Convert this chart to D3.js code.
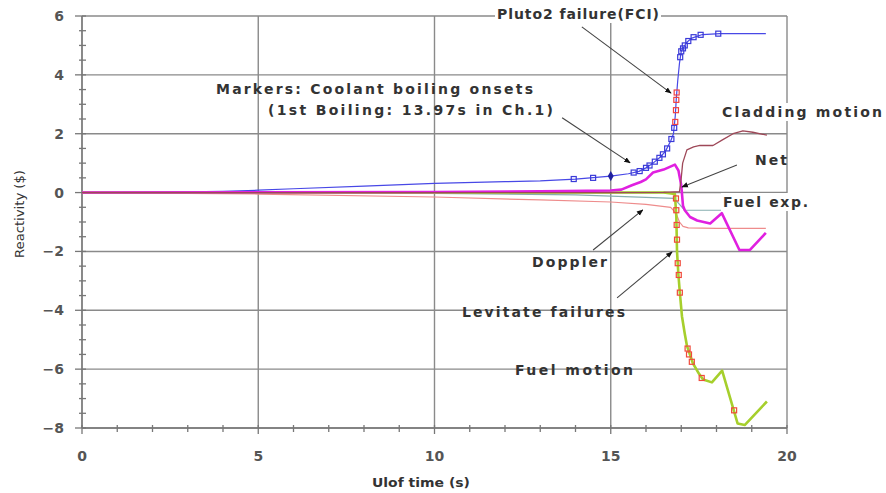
<!DOCTYPE html>
<html>
<head>
<meta charset="utf-8">
<script src="https://cdn.jsdelivr.net/npm/d3@7"></script>
<style>
  html, body { margin: 0; padding: 0; background: #fff; }
  svg { display: block; }
  text { font-family: "DejaVu Sans", "Liberation Sans", Arial, sans-serif; }
</style>
</head>
<body>
<svg id="chart" width="886" height="493"></svg>
<script>
// ---- Reactivity components during the ULOF transient ($ vs s) ----
const coolantT = [0, 2, 4, 5, 6, 8, 10, 12, 13, 14, 15, 15.5, 15.8, 16.0, 16.2, 16.4, 16.55, 16.7, 16.78, 16.83, 16.86, 16.9, 16.95, 17.0, 17.15, 17.3, 17.6, 18.1, 19.4];
const coolantV = [0, 0.01, 0.04, 0.08, 0.13, 0.22, 0.31, 0.37, 0.4, 0.46, 0.56, 0.64, 0.72, 0.84, 1.0, 1.2, 1.4, 1.75, 2.0, 2.6, 3.2, 3.8, 4.4, 4.8, 5.1, 5.25, 5.37, 5.4, 5.4];

const netT = [0, 5, 10, 13, 15, 15.3, 15.6, 15.85, 16.0, 16.2, 16.5, 16.82, 16.92, 17.0, 17.05, 17.1, 17.25, 17.45, 17.82, 18.15, 18.65, 18.95, 19.4];
const netV = [0, 0.01, 0.02, 0.04, 0.07, 0.1, 0.25, 0.36, 0.45, 0.68, 0.78, 0.95, 0.75, 0.25, -0.45, -0.6, -0.83, -0.95, -1.05, -0.7, -1.95, -1.95, -1.37];

const claddingT = [0, 5, 10, 15, 16.5, 16.95, 17.0, 17.04, 17.16, 17.35, 17.53, 17.9, 18.18, 18.47, 18.75, 19.03, 19.43];
const claddingV = [0, 0, 0, 0, 0.01, 0.03, 0.5, 1.0, 1.45, 1.55, 1.6, 1.6, 1.8, 2.0, 2.1, 2.05, 1.95];

const dopplerT = [0, 5, 10, 13, 15, 16, 16.7, 16.85, 16.95, 17.05, 17.2, 18, 19.4];
const dopplerV = [0, -0.05, -0.15, -0.25, -0.32, -0.4, -0.5, -0.7, -1.0, -1.15, -1.2, -1.22, -1.22];

const fuelExpT = [0, 10, 14, 15, 16, 16.8, 16.95, 17.1, 19.4];
const fuelExpV = [0, -0.03, -0.08, -0.12, -0.16, -0.2, -0.4, -0.6, -0.6];

const fuelMotionT = [0, 5, 10, 15, 16.5, 16.82, 16.86, 16.88, 16.92, 16.96, 17.02, 17.1, 17.16, 17.33, 17.5, 17.62, 17.87, 18.16, 18.38, 18.6, 18.8, 19.43];
const fuelMotionV = [0, 0, 0, 0, 0, -0.05, -0.8, -2.0, -2.8, -3.4, -4.2, -4.8, -5.2, -5.8, -6.15, -6.35, -6.45, -6.05, -6.95, -7.85, -7.9, -7.1];

// coolant boiling onsets (blue) on the coolant curve
const boilT = [13.95, 14.5, 15.65, 15.82, 16.0, 16.1, 16.25, 16.38, 16.48, 16.6, 16.72, 16.8, 16.97, 17.0, 17.05, 17.1, 17.2, 17.35, 17.55, 18.05];
const boilV = [0.46, 0.5, 0.68, 0.73, 0.84, 0.92, 1.05, 1.18, 1.3, 1.5, 1.82, 2.2, 4.6, 4.8, 4.9, 5.0, 5.15, 5.28, 5.36, 5.4];
// first boiling (Ch.1)
const firstBoilT = [15.0];
const firstBoilV = [0.56];
// Pluto2 failures (red) on the coolant curve
const plutoT = [16.83, 16.85, 16.86, 16.87];
const plutoV = [2.4, 2.8, 3.15, 3.4];
// levitate failures (red) on the fuel-motion curve
const levitateT = [16.85, 16.86, 16.87, 16.88, 16.9, 16.93, 16.96, 17.18, 17.22, 17.3, 17.58, 18.5];
const levitateV = [-0.2, -0.6, -1.1, -1.6, -2.4, -2.8, -3.4, -5.3, -5.5, -5.75, -6.3, -7.4];

// axis ticks
const xTicks = [0, 5, 10, 15, 20];
const yTicks = [6, 4, 2, 0, -2, -4, -6, -8];

// ---- layout ----
const svg = d3.select("#chart");
const x = d3.scaleLinear().domain([0, 20]).range([82, 787]);
const y = d3.scaleLinear().domain([-8, 6]).range([428, 16]);
const gridColor = "#8a8a8a";
const textColor = "#333";

const zip = (ts, vs) => ts.map((t, i) => [t, vs[i]]);
const line = d3.line().x(d => x(d[0])).y(d => y(d[1]));

// grid
svg.append("g").selectAll("line").data(yTicks).join("line")
  .attr("x1", x(0)).attr("x2", x(20))
  .attr("y1", d => y(d)).attr("y2", d => y(d))
  .attr("stroke", gridColor).attr("stroke-width", 1.4);
svg.append("g").selectAll("line").data(xTicks).join("line")
  .attr("y1", y(-8)).attr("y2", y(6))
  .attr("x1", d => x(d)).attr("x2", d => x(d))
  .attr("stroke", gridColor).attr("stroke-width", 1.4);

// axes with minor ticks
const axisG = svg.append("g").attr("stroke", "#777").attr("stroke-width", 1.3);
axisG.append("line").attr("x1", x(0)).attr("x2", x(0)).attr("y1", y(-8)).attr("y2", y(6));
axisG.append("line").attr("x1", x(0)).attr("x2", x(20)).attr("y1", y(-8)).attr("y2", y(-8));
axisG.selectAll("line.ym").data(d3.range(-8, 6.01, 0.5)).join("line").attr("class", "ym")
  .attr("x1", d => (d % 2 === 0 ? x(0) - 7 : x(0) - 3)).attr("x2", x(0) + 4)
  .attr("y1", d => y(d)).attr("y2", d => y(d));
axisG.selectAll("line.xm").data(d3.range(0, 20.01, 1)).join("line").attr("class", "xm")
  .attr("y1", y(-8) - 3).attr("y2", d => (d % 5 === 0 ? y(-8) + 6 : y(-8) + 4))
  .attr("x1", d => x(d)).attr("x2", d => x(d));

// tick labels
svg.append("g").selectAll("text").data(yTicks).join("text")
  .attr("x", 64).attr("y", d => y(d)).attr("dy", "0.36em")
  .attr("text-anchor", "end").attr("font-size", 14).attr("font-weight", "bold")
  .attr("fill", "#555").text(d => (d < 0 ? "\u2212" + Math.abs(d) : d));
svg.append("g").selectAll("text").data(xTicks).join("text")
  .attr("x", d => x(d)).attr("y", 456).attr("dy", "0.36em")
  .attr("text-anchor", "middle").attr("font-size", 14).attr("font-weight", "bold")
  .attr("fill", "#555").text(d => d);

// axis titles
svg.append("text").attr("x", 372).attr("y", 482).attr("dy", "0.36em")
  .attr("font-size", 13).attr("font-weight", "bold").attr("fill", textColor)
  .attr("textLength", 98).attr("lengthAdjust", "spacingAndGlyphs")
  .text("Ulof time (s)");
svg.append("text").attr("transform", "translate(20,214) rotate(-90)")
  .attr("text-anchor", "middle").attr("dy", "0.36em")
  .attr("font-size", 12).attr("fill", textColor)
  .attr("textLength", 88).attr("lengthAdjust", "spacingAndGlyphs")
  .text("Reactivity ($)");

// ---- curves (coolant first so the near-zero band covers its start) ----
const curves = [
  { pts: zip(coolantT, coolantV), color: "#4848e6", w: 1.2 },
  { pts: zip(fuelExpT, fuelExpV), color: "#86aeb0", w: 1.2 },
  { pts: zip(dopplerT, dopplerV), color: "#ee8c8c", w: 1.2 },
  { pts: zip(fuelMotionT, fuelMotionV), color: "#a6cf2c", w: 2.6 },
  { pts: zip(netT, netV), color: "#e020e0", w: 2.6 },
  { pts: zip(claddingT, claddingV), color: "#9e4858", w: 1.3 }
];
svg.append("g").selectAll("path").data(curves).join("path")
  .attr("d", d => line(d.pts)).attr("fill", "none")
  .attr("stroke", d => d.color).attr("stroke-width", d => d.w)
  .attr("stroke-linejoin", "round");

// ---- event markers ----
const sq = 5;
function squares(ts, vs, color) {
  svg.append("g").selectAll("rect").data(zip(ts, vs)).join("rect")
    .attr("x", d => x(d[0]) - sq / 2).attr("y", d => y(d[1]) - sq / 2)
    .attr("width", sq).attr("height", sq)
    .attr("fill", "none").attr("stroke", color).attr("stroke-width", 1.2);
}
squares(boilT, boilV, "#3a3ad8");
squares(plutoT, plutoV, "#f04040");
squares(levitateT, levitateV, "#f04a3a");
svg.append("g").selectAll("path").data(zip(firstBoilT, firstBoilV)).join("path")
  .attr("d", d3.symbol(d3.symbolDiamond, 30))
  .attr("transform", d => `translate(${x(d[0])},${y(d[1])})`)
  .attr("fill", "#2020a0");

// ---- annotations ----
svg.append("defs").append("marker")
  .attr("id", "tip").attr("viewBox", "0 0 10 10").attr("refX", 9).attr("refY", 5)
  .attr("markerWidth", 6).attr("markerHeight", 6).attr("orient", "auto")
  .append("path").attr("d", "M0,1 L10,5 L0,9 Z").attr("fill", "#111");

const arrows = [
  { from: [14.18, 5.63], to: [16.71, 3.38] },
  { from: [13.62, 2.54], to: [15.55, 1.01] },
  { from: [18.58, 0.94], to: [17.02, 0.19] },
  { from: [14.5, -1.95], to: [15.91, -0.59] },
  { from: [15.18, -3.58], to: [16.74, -2.02] }
];
svg.append("g").selectAll("line").data(arrows).join("line")
  .attr("x1", d => x(d.from[0])).attr("y1", d => y(d.from[1]))
  .attr("x2", d => x(d.to[0])).attr("y2", d => y(d.to[1]))
  .attr("stroke", "#444").attr("stroke-width", 1.1)
  .attr("marker-end", "url(#tip)");

const labels = [
  { text: "Pluto2 failure(FCI)", px: 497, py: 14, w: 162, bg: true },
  { text: "Markers: Coolant boiling onsets", px: 216, py: 89, w: 317 },
  { text: "(1st Boiling: 13.97s in Ch.1)", px: 268, py: 110, w: 285 },
  { text: "Cladding motion", px: 722, py: 112, w: 160, bg: true },
  { text: "Net", px: 755, py: 160, w: 32 },
  { text: "Fuel exp.", px: 723, py: 202, w: 85, bg: true },
  { text: "Doppler", px: 532, py: 262, w: 75 },
  { text: "Levitate failures", px: 462, py: 312, w: 163 },
  { text: "Fuel motion", px: 515, py: 370, w: 118 }
];
const lg = svg.append("g");
labels.filter(d => d.bg).forEach(d => {
  lg.append("rect").attr("x", d.px - 2).attr("y", d.py - 9).attr("width", d.w + 4).attr("height", 18)
    .attr("fill", "#fff");
});
lg.selectAll("text").data(labels).join("text")
  .attr("x", d => d.px).attr("y", d => d.py).attr("dy", "0.36em")
  .attr("font-size", 14).attr("font-weight", "bold").attr("fill", textColor)
  .attr("textLength", d => d.w).attr("lengthAdjust", "spacing")
  .text(d => d.text);
</script>
</body>
</html>
